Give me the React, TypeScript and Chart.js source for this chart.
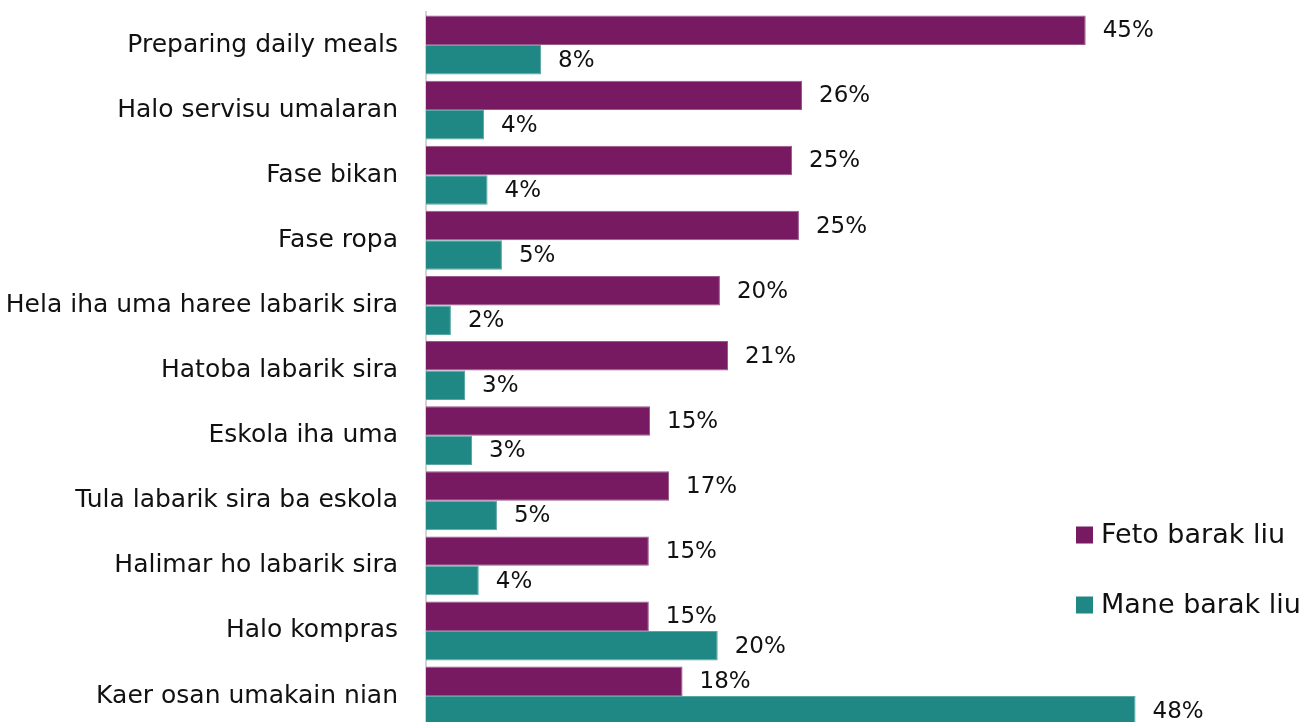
import React, { useEffect, useRef } from "react";
import { Chart, registerables } from "chart.js";

Chart.register(...registerables);

const categories = [
  "Preparing daily meals",
  "Halo servisu umalaran",
  "Fase bikan",
  "Fase ropa",
  "Hela iha uma haree labarik sira",
  "Hatoba labarik sira",
  "Eskola iha uma",
  "Tula labarik sira ba eskola",
  "Halimar ho labarik sira",
  "Halo kompras",
  "Kaer osan umakain nian",
];

const femaleValues = [45.0, 25.65, 24.97, 25.44, 20.05, 20.6, 15.28, 16.58, 15.2, 15.2, 17.5];
const maleValues = [7.85, 3.96, 4.2, 5.18, 1.7, 2.66, 3.14, 4.84, 3.6, 19.9, 48.4];

const seriesNames = ["Feto barak liu", "Mane barak liu"];
const seriesColors = ["#771A62", "#1F8885"];
const seriesBorders = ["#9A5A8C", "#5BA7A4"];

const FONT = "'DejaVu Sans', sans-serif";

const labelPlugin = {
  id: "valueLabels",
  afterDatasetsDraw(chart: any) {
    const ctx = chart.ctx;
    ctx.save();
    ctx.font = `23px ${FONT}`;
    ctx.fillStyle = "#111";
    ctx.textAlign = "left";
    ctx.textBaseline = "middle";
    chart.data.datasets.forEach((ds: any, di: number) => {
      const meta = chart.getDatasetMeta(di);
      meta.data.forEach((bar: any, i: number) => {
        const v = ds.data[i];
        ctx.fillText(`${Math.round(v)}%`, bar.x + 17, bar.y + 1);
      });
    });
    ctx.restore();
  },
};

const legendPlugin = {
  id: "customLegend",
  afterDraw(chart: any) {
    const ctx = chart.ctx;
    ctx.save();
    ctx.font = `27px ${FONT}`;
    ctx.textAlign = "left";
    ctx.textBaseline = "middle";
    const ys = [535, 605];
    seriesNames.forEach((name, i) => {
      ctx.fillStyle = seriesColors[i];
      ctx.fillRect(1076, ys[i] - 8.5, 17, 17);
      ctx.fillStyle = "#111";
      ctx.fillText(name, 1101, ys[i] + 1);
    });
    ctx.restore();
  },
};

export default function App() {
  const ref = useRef<HTMLCanvasElement | null>(null);

  useEffect(() => {
    if (!ref.current) return;
    const chart = new Chart(ref.current, {
      type: "bar",
      data: {
        labels: categories,
        datasets: [
          {
            label: seriesNames[0],
            data: femaleValues,
            backgroundColor: seriesColors[0],
            borderColor: seriesBorders[0],
            borderWidth: 1,
            categoryPercentage: 0.905,
            barPercentage: 1,
          },
          {
            label: seriesNames[1],
            data: maleValues,
            backgroundColor: seriesColors[1],
            borderColor: seriesBorders[1],
            borderWidth: 1,
            categoryPercentage: 0.905,
            barPercentage: 1,
          },
        ],
      },
      options: {
        indexAxis: "y",
        responsive: false,
        animation: false,
        devicePixelRatio: 1,
        layout: { padding: { left: 0, right: 147, top: 12.45, bottom: 12.4 } },
        plugins: {
          legend: { display: false },
          tooltip: { enabled: false },
        },
        scales: {
          x: {
            display: false,
            min: 0,
            max: 50,
          },
          y: {
            grid: { display: false, drawTicks: false },
            border: { display: true, color: "#D4D4D4", width: 2 },
            ticks: {
              padding: 28,
              color: "#111",
              font: { family: FONT, size: 25 },
            },
            afterFit(scale: any) {
              scale.width = 426;
              scale.paddingTop = 0;
              scale.paddingBottom = 0;
            },
          },
        },
      },
      plugins: [labelPlugin, legendPlugin],
    });
    return () => chart.destroy();
  }, []);

  return (
    <div
      style={{
        position: "fixed",
        left: 0,
        top: 0,
        width: 1306,
        height: 722,
        overflow: "hidden",
        background: "#fff",
      }}
    >
      <canvas ref={ref} width={1306} height={741} style={{ width: 1306, height: 741, display: "block" }} />
    </div>
  );
}
